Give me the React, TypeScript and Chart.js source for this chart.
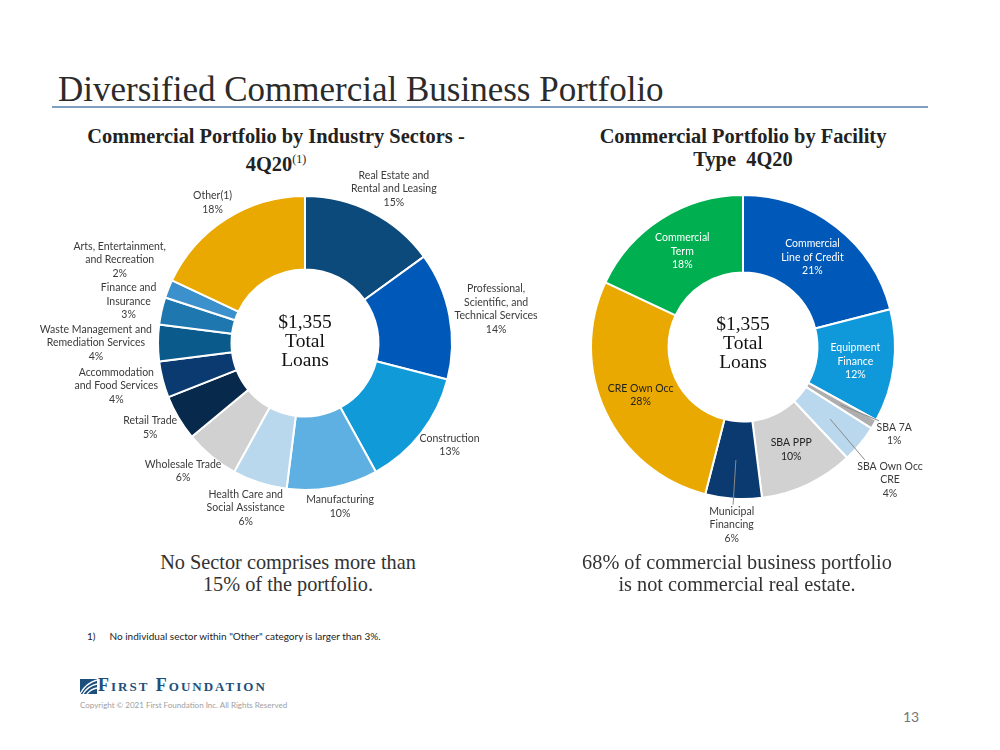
import React, { useEffect, useRef } from "react";
import { Chart, registerables } from "chart.js";

Chart.register(...registerables);

// ---------- Data ----------
const sectorNames = [
  "Real Estate and\nRental and Leasing",
  "Professional,\nScientific, and\nTechnical Services",
  "Construction",
  "Manufacturing",
  "Health Care and\nSocial Assistance",
  "Wholesale Trade",
  "Retail Trade",
  "Accommodation\nand Food Services",
  "Waste Management and\nRemediation Services",
  "Finance and\nInsurance",
  "Arts, Entertainment,\nand Recreation",
  "Other(1)",
];
const sectorValues = [15, 14, 13, 10, 6, 6, 5, 4, 4, 3, 2, 18];
const sectorColors = [
  "#0c4a7c",
  "#0058b8",
  "#119ad8",
  "#5db0e1",
  "#b9d8ee",
  "#d1d1d1",
  "#072a4c",
  "#0a3a70",
  "#0a5a8c",
  "#1f77b0",
  "#3c91cd",
  "#e9a900",
];

const facilityNames = [
  "Commercial\nLine of Credit",
  "Equipment\nFinance",
  "SBA 7A",
  "SBA Own Occ\nCRE",
  "SBA PPP",
  "Municipal\nFinancing",
  "CRE Own Occ",
  "Commercial\nTerm",
];
const facilityValues = [21, 12, 1, 4, 10, 6, 28, 18];
const facilityColors = [
  "#0058b8",
  "#0f99da",
  "#aeaeae",
  "#b9d8ee",
  "#d1d1d1",
  "#0a3a70",
  "#e9a900",
  "#00b050",
];

const totalLabel = ["$1,355", "Total", "Loans"];

// ---------- Helpers ----------
function isDark(hex: string) {
  const h = hex.replace("#", "");
  const r = parseInt(h.substring(0, 2), 16);
  const g = parseInt(h.substring(2, 4), 16);
  const b = parseInt(h.substring(4, 6), 16);
  const lum = 0.299 * r + 0.587 * g + 0.114 * b;
  return lum < 150 && !(r > 200 && g > 140);
}

type Box = { x1: number; y1: number; x2: number; y2: number };

const sliceLabelPlugin = {
  id: "sliceLabels",
  afterDatasetsDraw(chart: any, _args: any, opts: any) {
    const ctx = chart.ctx;
    const meta = chart.getDatasetMeta(0);
    const ds = chart.data.datasets[0];
    const data = ds.data as number[];
    const names = chart.data.labels as string[];
    const colors = ds.backgroundColor as string[];
    ctx.save();
    ctx.font = `${opts.fontSize}px ${opts.fontFamily}`;
    ctx.textAlign = "center";
    ctx.textBaseline = "middle";
    const lh = opts.lineHeight;
    const pad = opts.pad ?? 1;
    const placed: Box[] = [];
    meta.data.forEach((arc: any, i: number) => {
      const p = arc.getProps(
        ["x", "y", "startAngle", "endAngle", "innerRadius", "outerRadius"],
        true
      );
      const mid = (p.startAngle + p.endAngle) / 2;
      const cos = Math.cos(mid);
      const sin = Math.sin(mid);
      const lines = [...String(names[i]).split("\n"), `${data[i]}%`];
      const w = Math.max(...lines.map((l) => ctx.measureText(l).width));
      const h = lines.length * lh;
      let cx: number;
      let cy: number;
      let color = opts.color;
      const inside = opts.insideMin != null && data[i] >= opts.insideMin;
      if (inside) {
        const r = (p.innerRadius + p.outerRadius) / 2;
        cx = p.x + r * cos;
        cy = p.y + r * sin;
        color = isDark(colors[i]) ? "#ffffff" : "#222222";
      } else {
        const r = p.outerRadius + opts.gap;
        const ax = p.x + r * cos;
        const ay = p.y + r * sin;
        cx = ax + (w / 2) * cos;
        cy = ay + (h / 2) * sin;
        // simple collision avoidance: right side moves down, left side moves up
        const down = cos >= 0;
        for (let pass = 0; pass < 2; pass++) {
          for (const b of placed) {
            const ox = cx - w / 2 < b.x2 && cx + w / 2 > b.x1;
            const oy = cy - h / 2 < b.y2 && cy + h / 2 > b.y1;
            if (ox && oy) {
              if (down) cy = b.y2 + h / 2 + pad;
              else cy = b.y1 - h / 2 - pad;
            }
          }
        }
        if (opts.leader) {
          const rm = (p.innerRadius + p.outerRadius) / 2;
          ctx.strokeStyle = "#8a8a8a";
          ctx.lineWidth = 1;
          ctx.beginPath();
          ctx.moveTo(p.x + rm * cos, p.y + rm * sin);
          const ey = sin >= 0 ? cy - h / 2 : cy + h / 2;
          ctx.lineTo(ax, Math.abs(ey - ay) > 3 ? ey : ay);
          ctx.stroke();
        }
        placed.push({ x1: cx - w / 2, y1: cy - h / 2, x2: cx + w / 2, y2: cy + h / 2 });
      }
      ctx.fillStyle = color;
      lines.forEach((l, k) => ctx.fillText(l, cx, cy - h / 2 + lh / 2 + k * lh));
    });
    ctx.restore();
  },
};

function Donut(props: {
  names: string[];
  values: number[];
  colors: string[];
  width: number;
  height: number;
  left: number;
  top: number;
  radius: number;
  cutout: string;
  insideMin?: number;
  leader?: boolean;
  gap: number;
  pad: number;
}) {
  const ref = useRef<HTMLCanvasElement>(null);
  useEffect(() => {
    if (!ref.current) return;
    const chart = new Chart(ref.current, {
      type: "doughnut",
      data: {
        labels: props.names,
        datasets: [
          {
            data: props.values,
            backgroundColor: props.colors,
            borderColor: "#ffffff",
            borderWidth: 2,
            radius: props.radius,
            cutout: props.cutout,
          } as any,
        ],
      },
      options: {
        responsive: false,
        maintainAspectRatio: false,
        animation: false,
        layout: { padding: 0 },
        plugins: {
          legend: { display: false },
          tooltip: { enabled: false },
          sliceLabels: {
            fontSize: 10.5,
            fontFamily: "Lato, 'Open Sans', sans-serif",
            lineHeight: 13.5,
            color: "#3a3a3a",
            gap: props.gap,
            pad: props.pad,
            insideMin: props.insideMin,
            leader: props.leader,
          },
        } as any,
      },
      plugins: [sliceLabelPlugin],
    });
    return () => chart.destroy();
  }, []);
  return (
    <canvas
      ref={ref}
      width={props.width}
      height={props.height}
      style={{
        position: "absolute",
        left: props.left,
        top: props.top,
        width: props.width,
        height: props.height,
      }}
    />
  );
}

const serif = "'Liberation Serif', 'DejaVu Serif', serif";

function CenterText({ x, y }: { x: number; y: number }) {
  return (
    <div
      style={{
        position: "absolute",
        left: x - 60,
        top: y - 31,
        width: 120,
        textAlign: "center",
        fontFamily: serif,
        fontSize: 19.5,
        lineHeight: "19px",
        color: "#111",
      }}
    >
      {totalLabel.map((t) => (
        <div key={t}>{t}</div>
      ))}
    </div>
  );
}

const subStyle: React.CSSProperties = {
  position: "absolute",
  top: 125,
  width: 460,
  textAlign: "center",
  fontFamily: serif,
  fontWeight: "bold",
  fontSize: 20.4,
  lineHeight: "23px",
  color: "#222",
};

const bottomStyle: React.CSSProperties = {
  position: "absolute",
  top: 551,
  width: 440,
  textAlign: "center",
  fontFamily: serif,
  fontSize: 20.3,
  lineHeight: "22px",
  color: "#333",
};

export default function App() {
  return (
    <div
      style={{
        position: "fixed",
        left: 0,
        top: 0,
        width: 1000,
        height: 750,
        background: "#ffffff",
        overflow: "hidden",
      }}
    >
      <div
        style={{
          position: "absolute",
          left: 58,
          top: 72,
          fontFamily: serif,
          fontSize: 35,
          lineHeight: "36px",
          color: "#2b2b2b",
          whiteSpace: "nowrap",
        }}
      >
        Diversified Commercial Business Portfolio
      </div>
      <div
        style={{
          position: "absolute",
          left: 52,
          top: 106,
          width: 876,
          height: 2,
          background: "#7f9fc0",
        }}
      />
      <div style={{ ...subStyle, left: 46 }}>
        Commercial Portfolio by Industry Sectors -<br />
        4Q20<sup style={{ fontSize: 12, fontWeight: "normal" }}>(1)</sup>
      </div>
      <div style={{ ...subStyle, left: 513 }}>
        Commercial Portfolio by Facility
        <br />
        Type&nbsp; 4Q20
      </div>

      <Donut
        names={sectorNames}
        values={sectorValues}
        colors={sectorColors}
        width={560}
        height={380}
        left={25}
        top={153}
        radius={147}
        cutout="50%"
        gap={6}
        pad={1}
      />
      <Donut
        names={facilityNames}
        values={facilityValues}
        colors={facilityColors}
        width={440}
        height={420}
        left={523}
        top={137}
        radius={152}
        cutout="49%"
        insideMin={10}
        leader={true}
        gap={6}
        pad={12}
      />
      <CenterText x={305} y={343} />
      <CenterText x={743} y={345} />

      <div style={{ ...bottomStyle, left: 68 }}>
        No Sector comprises more than
        <br />
        15% of the portfolio.
      </div>
      <div style={{ ...bottomStyle, left: 517 }}>
        68% of commercial business portfolio
        <br />
        is not commercial real estate.
      </div>

      <div
        style={{
          position: "absolute",
          left: 87,
          top: 630,
          fontFamily: "Lato, sans-serif",
          fontSize: 10,
          color: "#222",
          whiteSpace: "nowrap",
        }}
      >
        1)
        <span style={{ marginLeft: 14 }}>
          No individual sector within "Other" category is larger than 3%.
        </span>
      </div>

      <div style={{ position: "absolute", left: 80, top: 679 }}>
        <svg
          width={17}
          height={15}
          viewBox="0 0 17 15"
          style={{ position: "absolute", left: 0, top: 0 }}
        >
          <rect x={0} y={0} width={17} height={15} fill="#1d4f7c" />
          <path d="M0 15 Q6 4 17 1" stroke="#fff" strokeWidth={1.3} fill="none" />
          <path d="M3 15 Q8 7 17 5" stroke="#fff" strokeWidth={1.3} fill="none" />
          <path d="M7 15 Q11 10 17 9" stroke="#fff" strokeWidth={1.3} fill="none" />
        </svg>
        <div
          style={{
            position: "absolute",
            left: 18,
            top: -4,
            fontFamily: serif,
            fontWeight: "bold",
            fontSize: 18,
            letterSpacing: 2,
            fontVariant: "small-caps",
            color: "#1d4f7c",
            whiteSpace: "nowrap",
            lineHeight: "20px",
          }}
        >
          First Foundation
        </div>
        <div
          style={{
            position: "absolute",
            left: 0,
            top: 21,
            fontFamily: "Lato, sans-serif",
            fontSize: 8,
            color: "#a0a0a0",
            whiteSpace: "nowrap",
          }}
        >
          Copyright © 2021 First Foundation Inc. All Rights Reserved
        </div>
      </div>

      <div
        style={{
          position: "absolute",
          left: 903,
          top: 708,
          fontFamily: "Lato, sans-serif",
          fontSize: 14,
          color: "#777",
        }}
      >
        13
      </div>
    </div>
  );
}
